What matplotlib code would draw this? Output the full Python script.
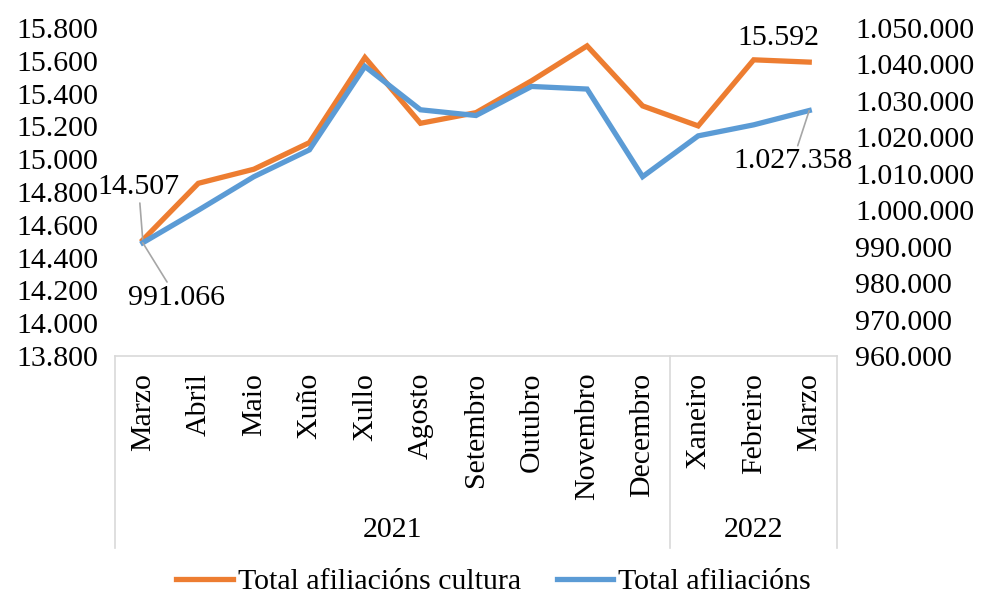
import matplotlib
matplotlib.use("Agg")
import matplotlib.pyplot as plt
from matplotlib.ticker import FuncFormatter, MultipleLocator
import matplotlib.transforms as mtransforms

plt.rcParams['font.family'] = ['Liberation Serif', 'DejaVu Serif']

months = ["Marzo", "Abril", "Maio", "Xuño", "Xullo", "Agosto", "Setembro",
          "Outubro", "Novembro", "Decembro", "Xaneiro", "Febreiro", "Marzo"]
years = ["2021", "2022"]
year_counts = [10, 3]
cultura = [14507, 14853, 14939, 15101, 15620, 15219, 15284, 15478, 15691,
           15325, 15203, 15606, 15592]
total = [991066, 1000000, 1009200, 1016560, 1039460, 1027560, 1025990,
         1033960, 1033250, 1009200, 1020400, 1023430, 1027358]

ORANGE = "#ED7D31"
BLUE = "#5B9BD5"
GRID = "#D9D9D9"
FS = 21.5

def fmt(v, pos=None):
    return f"{int(round(v)):,}".replace(",", ".")

fig = plt.figure(figsize=(9.81, 5.96), dpi=100)
ax = fig.add_axes([115/981, 1-356/596, (837-115)/981, (356-28)/596])
ax2 = ax.twinx()

x = list(range(len(months)))
l1, = ax.plot(x, cultura, color=ORANGE, lw=3.8, solid_joinstyle='miter',
              label="Total afiliacións cultura", zorder=3)
l2, = ax2.plot(x, total, color=BLUE, lw=3.8, solid_joinstyle='miter',
               label="Total afiliacións", zorder=3)

ax.set_xlim(-0.5, len(months) - 0.5)
ax.set_ylim(13800, 15800)
ax2.set_ylim(960000, 1050000)
ax.yaxis.set_major_locator(MultipleLocator(200))
ax2.yaxis.set_major_locator(MultipleLocator(10000))
ax.yaxis.set_major_formatter(FuncFormatter(fmt))
ax2.yaxis.set_major_formatter(FuncFormatter(fmt))

for a in (ax, ax2):
    for s in a.spines.values():
        s.set_visible(False)
ax.spines['bottom'].set_visible(True)
ax.spines['bottom'].set_color(GRID)
ax.spines['bottom'].set_linewidth(1.2)

ax.tick_params(axis='y', length=0, labelsize=FS, pad=12)
ax2.tick_params(axis='y', length=0, labelsize=FS, pad=13)
ax.set_xticks(x)
ax.set_xticklabels(months, rotation=90, fontsize=FS, va='top', ha='center')
ax.tick_params(axis='x', length=0, pad=12)

# category grouping lines
trans = mtransforms.blended_transform_factory(ax.transData, ax.transAxes)
bottom = -(548 - 356) / (356 - 28)
bounds = [-0.5]
for c in year_counts:
    bounds.append(bounds[-1] + c)
for b in bounds:
    ax.plot([b, b], [0, bottom], transform=trans, color=GRID, lw=1.2,
            clip_on=False)
for i, yr in enumerate(years):
    xc = (bounds[i] + bounds[i + 1]) / 2
    ax.text(xc, -(530 - 356) / (356 - 28), yr, transform=trans, ha='center',
            va='center', fontsize=FS)

# data labels
ap = dict(arrowstyle='-', color='#A6A6A6', lw=1.2, shrinkA=0, shrinkB=0)
ax.annotate(fmt(cultura[0]), (x[0], cultura[0]), xytext=(-3, 38),
            textcoords='offset points', ha='center', va='center',
            fontsize=FS, arrowprops=ap, zorder=5)
ax2.annotate(fmt(total[0]), (x[0], total[0]), xytext=(24.5, -39.6),
             textcoords='offset points', ha='center', va='center',
             fontsize=FS, arrowprops=ap, zorder=5)
ax.annotate(fmt(cultura[-1]), (x[-1], cultura[-1]), xytext=(-22.3, 17.3),
            textcoords='offset points', ha='center', va='center',
            fontsize=FS, zorder=5)
ax2.annotate(fmt(total[-1]), (x[-1], total[-1]), xytext=(-12, -36.7),
             textcoords='offset points', ha='center', va='center',
             fontsize=FS, arrowprops=ap, zorder=5)

fig.legend(handles=[l1, l2], loc='center',
           bbox_to_anchor=(0.5 + 3/981, 1 - 582/596),
           ncol=2, frameon=False, fontsize=FS, handlelength=1.9,
           handletextpad=0.15, columnspacing=1.2)

fig.savefig("out.png", dpi=100)
